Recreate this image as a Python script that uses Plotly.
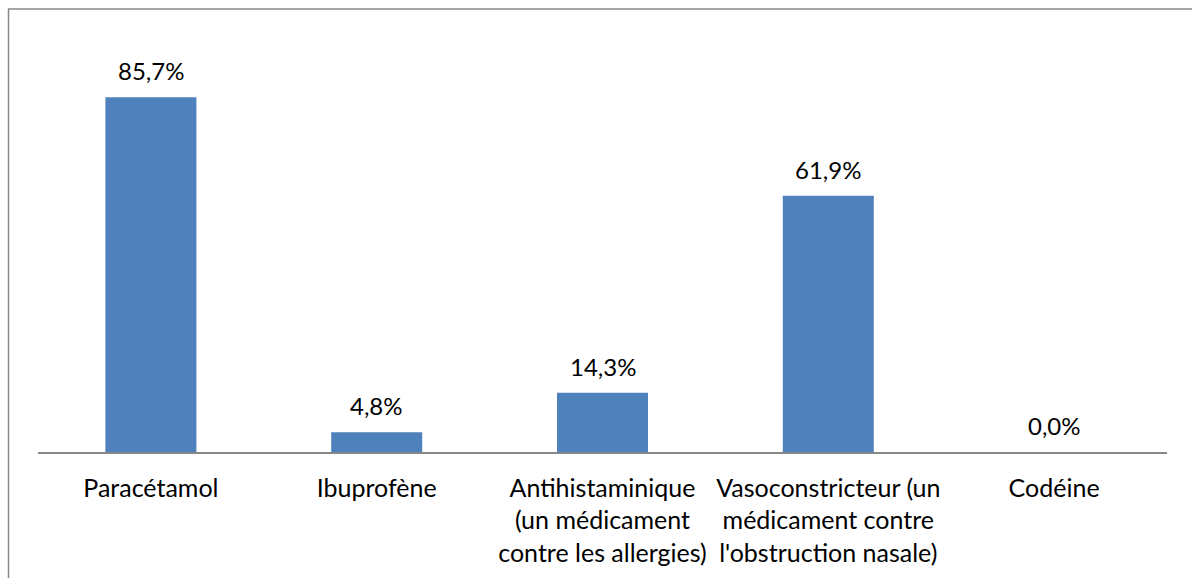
import plotly.graph_objects as go

# Share of respondents per medication type
categories = [
    "Paracétamol",
    "Ibuprofène",
    "Antihistaminique<br>(un médicament<br>contre les allergies)",
    "Vasoconstricteur (un<br>médicament contre<br>l'obstruction nasale)",
    "Codéine",
]
values = [85.7, 4.8, 14.3, 61.9, 0.0]
value_labels = [f"{v:.1f}%".replace(".", ",") for v in values]

W, H = 1192, 578
M_L, M_R, M_T, M_B = 38, 25, 38, 126
BAR_COLOR = "#4F81BD"
LINE_COLOR = "#868686"
FONT = "Lato"

fig = go.Figure(
    go.Bar(
        x=categories,
        y=values,
        marker=dict(color=BAR_COLOR, line=dict(width=0)),
        width=0.403,
        hoverinfo="skip",
    )
)

# value labels above each bar
for cat, v, lab in zip(categories, values, value_labels):
    fig.add_annotation(
        x=cat, y=v, text=lab, showarrow=False,
        yanchor="bottom", yshift=10,
        font=dict(family=FONT, size=24, color="#000000"),
    )

# chart-area frame (left and top edges)
plot_w = W - M_L - M_R
plot_h = H - M_T - M_B
def px_x(p):
    return (p - M_L) / plot_w
def px_y(p):
    return (H - M_B - p) / plot_h

fig.add_shape(type="line", xref="paper", yref="paper",
              x0=px_x(8.5), x1=px_x(8.5), y0=px_y(9), y1=px_y(H + 2),
              line=dict(color=LINE_COLOR, width=1.5))
fig.add_shape(type="line", xref="paper", yref="paper",
              x0=px_x(8), x1=px_x(W + 2), y0=px_y(9), y1=px_y(9),
              line=dict(color=LINE_COLOR, width=1.5))

fig.update_layout(
    width=W, height=H,
    margin=dict(l=M_L, r=M_R, t=M_T, b=M_B, pad=0),
    paper_bgcolor="white", plot_bgcolor="white",
    showlegend=False,
    font=dict(family=FONT, size=24, color="#000000"),
    xaxis=dict(
        showline=True, linecolor=LINE_COLOR, linewidth=1.5,
        ticks="", showgrid=False, zeroline=False,
        tickfont=dict(family=FONT, size=25, color="#000000"),
        ticklabelstandoff=13,
    ),
    yaxis=dict(
        range=[0, 100], visible=False, showgrid=False, zeroline=False,
    ),
)

fig.write_html("out.html")
